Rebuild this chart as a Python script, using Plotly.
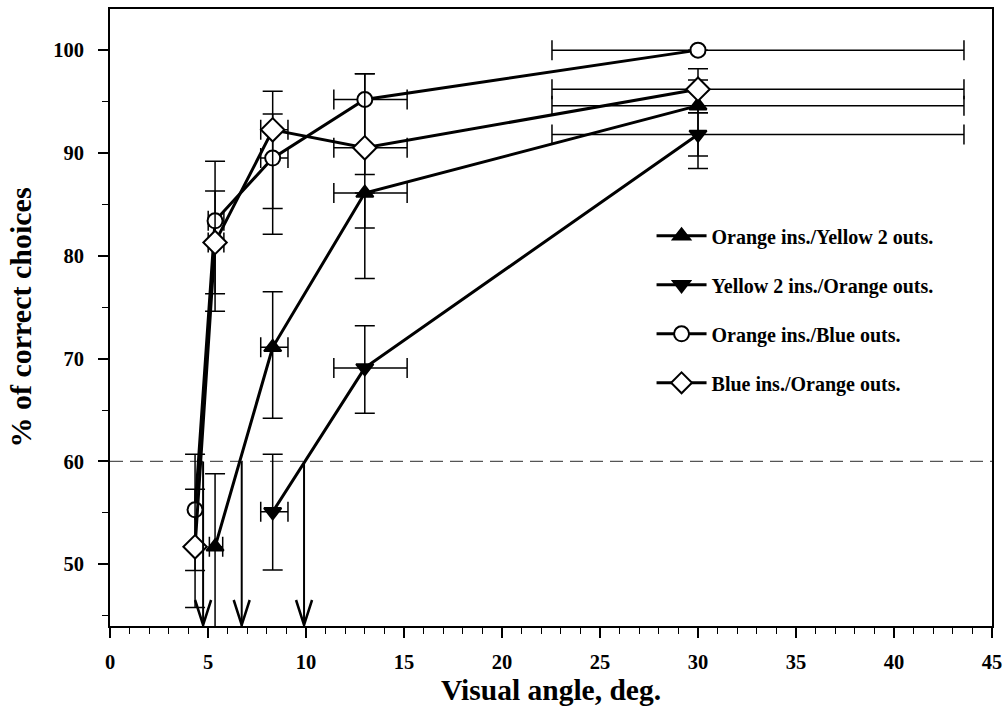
import plotly.graph_objects as go

# ---------------- data ----------------
series_names = ["Orange ins./Yellow 2 outs.", "Yellow 2 ins./Orange outs.",
                "Orange ins./Blue outs.", "Blue ins./Orange outs."]

# Orange ins./Yellow 2 outs. (filled triangle up)
x_tri_up = [5.36, 8.3, 13.0, 30.0]
y_tri_up = [51.7, 71.1, 86.1, 94.6]
ey_plus_tri_up = [7.1, 5.4, 0.0, 2.5]
ey_minus_tri_up = [8.5, 6.9, 8.3, 4.9]
ex_plus_tri_up = [0.39, 0.78, 2.16, 13.57]
ex_minus_tri_up = [0.29, 0.61, 1.58, 7.45]

# Yellow 2 ins./Orange outs. (filled triangle down)
x_tri_dn = [8.3, 13.0, 30.0]
y_tri_dn = [55.1, 69.1, 91.8]
ey_plus_tri_dn = [5.6, 4.1, 2.1]
ey_minus_tri_dn = [5.65, 4.4, 3.3]
ex_plus_tri_dn = [0.78, 2.16, 13.57]
ex_minus_tri_dn = [0.61, 1.58, 7.45]

# Orange ins./Blue outs. (open circle)
x_circle = [4.34, 5.36, 8.3, 13.0, 30.0]
y_circle = [55.3, 83.4, 89.5, 95.2, 100.0]
ey_plus_circle = [5.4, 5.8, 4.3, 2.5, 0.0]
ey_minus_circle = [5.9, 8.8, 4.9, 12.5, 0.0]
ex_plus_circle = [0.0, 0.45, 0.78, 2.16, 13.57]
ex_minus_circle = [0.0, 0.35, 0.61, 1.58, 7.45]

# Blue ins./Orange outs. (open diamond)
x_diamond = [4.34, 5.36, 8.3, 13.0, 30.0]
y_diamond = [51.7, 81.3, 92.25, 90.5, 96.2]
ey_plus_diamond = [5.6, 5.0, 3.75, 7.2, 2.0]
ey_minus_diamond = [5.9, 5.0, 10.15, 2.6, 2.3]
ex_plus_diamond = [0.0, 0.45, 0.78, 2.16, 13.57]
ex_minus_diamond = [0.0, 0.35, 0.61, 1.58, 7.45]

threshold = 60
arrow_x = [4.75, 6.72, 9.9]

x_range = [0, 45]
y_range = [44, 104]

# ---------------- figure ----------------
FONT = "Liberation Serif"
fig = go.Figure()


def add_series(name, xs, ys, ep, em, exp, exm, symbol, filled, size, group):
    fig.add_trace(go.Scatter(
        x=xs, y=ys, name=name, mode="lines+markers",
        legendgroup=group,
        line=dict(color="black", width=3),
        marker=dict(symbol=symbol, size=size,
                    color="black" if filled else "white",
                    line=dict(color="black", width=2)),
        error_y=dict(type="data", symmetric=False, array=ep, arrayminus=em,
                     color="black", thickness=1.5, width=10),
        error_x=dict(type="data", symmetric=False, array=exp, arrayminus=exm,
                     color="black", thickness=1.5, width=10),
    ))


add_series(series_names[0], x_tri_up, y_tri_up, ey_plus_tri_up, ey_minus_tri_up,
           ex_plus_tri_up, ex_minus_tri_up, "triangle-up", True, 15, "g1")
add_series(series_names[1], x_tri_dn, y_tri_dn, ey_plus_tri_dn, ey_minus_tri_dn,
           ex_plus_tri_dn, ex_minus_tri_dn, "triangle-down", True, 15, "g2")
add_series(series_names[2], x_circle, y_circle, ey_plus_circle, ey_minus_circle,
           ex_plus_circle, ex_minus_circle, "circle", False, 15, "g3")
add_series(series_names[3], x_diamond, y_diamond, ey_plus_diamond, ey_minus_diamond,
           ex_plus_diamond, ex_minus_diamond, "diamond", False, 18, "g4")

shapes = [dict(type="line", xref="paper", yref="y", x0=0, x1=1,
               y0=threshold, y1=threshold,
               line=dict(color="#555555", width=1.3, dash="13px,7px"),
               layer="below")]
for ax in arrow_x:
    shapes.append(dict(type="line", xref="x", yref="y", x0=ax, x1=ax,
                       y0=threshold, y1=y_range[0],
                       line=dict(color="black", width=2)))
    shapes.append(dict(type="path", xref="x", yref="y",
                       xsizemode="pixel", ysizemode="pixel",
                       xanchor=ax, yanchor=y_range[0],
                       path="M -8,26 L 0,1 L 8,26",
                       line=dict(color="black", width=2.5)))

fig.update_layout(
    width=1004, height=715,
    margin=dict(l=110, r=12, t=9, b=89, autoexpand=False),
    plot_bgcolor="white", paper_bgcolor="white",
    shapes=shapes,
    showlegend=True,
    legend=dict(x=0.614, y=0.664, xanchor="left", yanchor="top",
                font=dict(family=FONT, size=20, color="black", weight="bold"),
                tracegroupgap=20, bgcolor="rgba(0,0,0,0)",
                itemwidth=50),
    font=dict(family=FONT, color="black"),
)

fig.update_xaxes(
    range=x_range, dtick=5, tick0=0, automargin=False,
    showline=True, linecolor="black", linewidth=2, mirror=True,
    ticks="outside", ticklen=10, tickwidth=1.5, tickcolor="black",
    minor=dict(dtick=1, ticks="outside", ticklen=6, tickwidth=1.2, tickcolor="black"),
    showgrid=False, zeroline=False,
    tickfont=dict(family=FONT, size=20.5, color="black", weight="bold"),
    ticklabelstandoff=6,
    title=dict(text="Visual angle, deg.", standoff=8,
               font=dict(family=FONT, size=29.5, color="black", weight="bold")),
)
fig.update_yaxes(
    range=y_range, dtick=10, tick0=0, automargin=False,
    showline=True, linecolor="black", linewidth=2, mirror=True,
    ticks="outside", ticklen=10, tickwidth=1.5, tickcolor="black",
    minor=dict(dtick=5, ticks="outside", ticklen=6, tickwidth=1.2, tickcolor="black"),
    showgrid=False, zeroline=False,
    tickfont=dict(family=FONT, size=20.5, color="black", weight="bold"),
    ticklabelstandoff=10,
    title=dict(text="% of correct choices", standoff=13,
               font=dict(family=FONT, size=30, color="black", weight="bold")),
)

fig.write_html("out.html")
